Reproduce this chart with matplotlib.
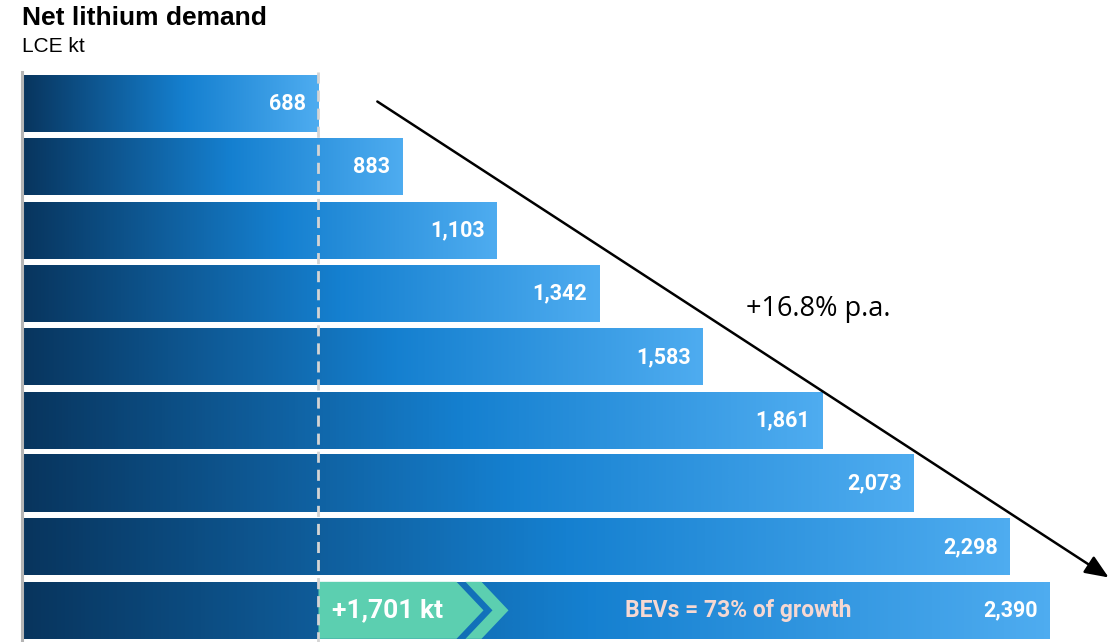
import matplotlib
matplotlib.use("Agg")
import matplotlib.pyplot as plt
import numpy as np
from matplotlib.colors import LinearSegmentedColormap
from matplotlib.patches import Polygon, FancyArrowPatch

# Net lithium demand, LCE kt (one bar per year, earliest first)
values = [688, 883, 1103, 1342, 1583, 1861, 2073, 2298, 2390]
value_labels = ["688", "883", "1,103", "1,342", "1,583", "1,861", "2,073", "2,298", "2,390"]
growth_label = "+16.8% p.a."
increase_label = "+1,701 kt"
bev_label = "BEVs = 73% of growth"

W, H, DPI = 1115, 642, 100
fig = plt.figure(figsize=(W / DPI, H / DPI), dpi=DPI)

# axes placed in pixel units
ax_left, ax_top, ax_bottom = 23, 72, 642
ax = fig.add_axes([ax_left / W, 1 - ax_bottom / H, (W - ax_left) / W, (ax_bottom - ax_top) / H])
px_per_kt = 0.4295
n = len(values)
ax.axis("off")

cmap = LinearSegmentedColormap.from_list(
    "bar", [(0.0, "#08355e"), (0.55, "#1580d0"), (1.0, "#4eacf0")])
grad = np.linspace(0, 1, 256).reshape(1, -1)
bar_h = 0.9

for i, v in enumerate(values):
    y0, y1 = i - bar_h / 2, i + bar_h / 2
    ax.imshow(grad, cmap=cmap, aspect="auto", extent=[0, v, y1, y0],
              interpolation="bilinear", zorder=1)
    ax.text(v - 12 / px_per_kt, i, value_labels[i], ha="right", va="center",
            color="white", fontsize=15.5, fontweight="bold", family="Roboto", zorder=6)

ax.set_xlim(0, (W - ax_left) / px_per_kt)
ax.set_ylim(n - 0.5, -0.5)

# reference line at the first year's level
ax.plot([values[0], values[0]], [-0.5, n - 0.5], color="#d4d4d4", lw=2,
        ls=(0, (4, 2.5)), zorder=5)

# left axis line
ax.plot([-1.5, -1.5], [-0.5, n - 0.5], color="#b5b5b5", lw=2.2, clip_on=False, zorder=3)

# chevron on the last bar showing the increase
last = n - 1
yt, yb, yc = last - bar_h / 2, last + bar_h / 2, last
k = 1 / px_per_kt
x0 = values[0]
body = Polygon([(x0, yt), (x0 + 138 * k, yt), (x0 + 165 * k, yc),
                (x0 + 138 * k, yb), (x0, yb)], closed=True,
               facecolor="#5ccfb0", edgecolor="none", zorder=4)
stripe = Polygon([(x0 + 147 * k, yt), (x0 + 163 * k, yt), (x0 + 190 * k, yc),
                  (x0 + 163 * k, yb), (x0 + 147 * k, yb), (x0 + 174 * k, yc)],
                 closed=True, facecolor="#5ccfb0", edgecolor="none", zorder=4)
ax.add_patch(body)
ax.add_patch(stripe)
ax.text(x0 + 69 * k, yc, increase_label, ha="center", va="center", color="white",
        fontsize=19, fontweight="bold", family="Roboto", zorder=6)
ax.text(x0 + 420 * k, yc, bev_label, ha="center", va="center", color="#f6d8d2",
        fontsize=16.5, fontweight="bold", family="Roboto", zorder=6)

# growth arrow
fig.add_artist(FancyArrowPatch(
    (375 / W, 1 - 100 / H), (1111 / W, 1 - 579 / H), transform=fig.transFigure,
    arrowstyle="-|>,head_length=1.2,head_width=0.5", mutation_scale=12,
    color="black", lw=1.8, zorder=10))
fig.text(818 / W, 1 - 309 / H, growth_label, ha="center", va="center",
         fontsize=19.5, family="Open Sans", color="black")

# title
fig.text(22 / W, 1 - 18 / H, "Net lithium demand", ha="left", va="center",
         fontsize=19, fontweight="bold", family="Liberation Sans")
fig.text(22 / W, 1 - 46 / H, "LCE kt", ha="left", va="center",
         fontsize=15, family="Liberation Sans")

fig.savefig("out.png", dpi=DPI)
